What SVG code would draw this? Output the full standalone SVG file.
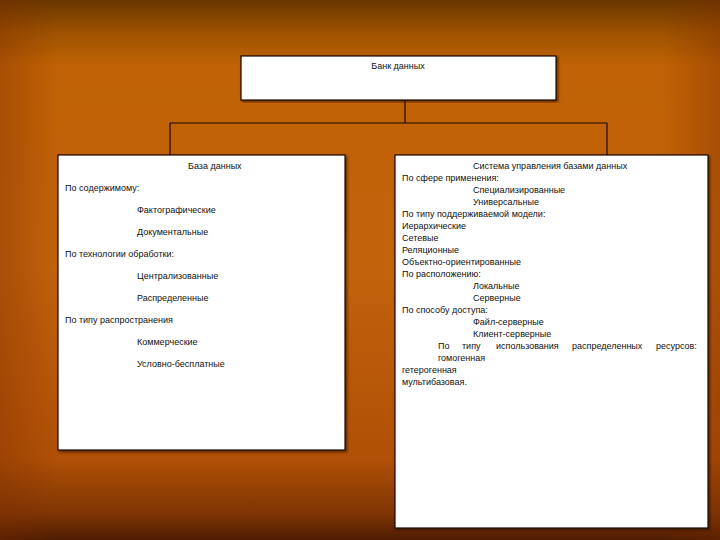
<svg xmlns="http://www.w3.org/2000/svg" width="720" height="540" viewBox="0 0 720 540">
<defs>
<linearGradient id="bg" x1="0" y1="0" x2="0" y2="1">
<stop offset="0" stop-color="#683700"/>
<stop offset="0.06" stop-color="#9e5200"/>
<stop offset="0.12" stop-color="#c06205"/>
<stop offset="0.5" stop-color="#c2620c"/>
<stop offset="0.85" stop-color="#b05006"/>
<stop offset="0.95" stop-color="#803604"/>
<stop offset="1" stop-color="#4e1c02"/>
</linearGradient>
<linearGradient id="side" x1="0" y1="0" x2="1" y2="0">
<stop offset="0" stop-color="#7a2a00" stop-opacity="0.35"/>
<stop offset="0.08" stop-color="#7a2a00" stop-opacity="0"/>
<stop offset="0.92" stop-color="#7a2a00" stop-opacity="0"/>
<stop offset="1" stop-color="#7a2a00" stop-opacity="0.35"/>
</linearGradient>
<filter id="sh" x="-5%" y="-5%" width="110%" height="110%">
<feDropShadow dx="1.5" dy="1.5" stdDeviation="1" flood-color="#2a0c00" flood-opacity="0.7"/>
</filter>
</defs>
<style>
.box{fill:#fff;stroke:#1a0800;stroke-width:1.2;filter:url(#sh)}
.t{font-family:"Liberation Sans",Arial,sans-serif;font-size:9px;fill:#111}
.c{fill:none;stroke:#1a0800;stroke-width:1.2}
</style>
<rect width="720" height="540" fill="url(#bg)"/>
<rect width="720" height="540" fill="url(#side)"/>
<g id="connectors">
<path class="c" d="M405 100 V123 M170 123 H607 M170 123 V155 M607 123 V155"/>
</g>
<g id="bank">
<rect class="box" x="241" y="56" width="315" height="44"/>
<text class="t" x="398" y="69" text-anchor="middle">Банк данных</text>
</g>
<g id="database">
<rect class="box" x="58" y="155" width="287" height="295"/>
<text class="t" x="188" y="169">База данных</text>
<text class="t" x="65" y="191">По содержимому:</text>
<text class="t" x="137" y="213">Фактографические</text>
<text class="t" x="137" y="235">Документальные</text>
<text class="t" x="65" y="257">По технологии обработки:</text>
<text class="t" x="137" y="279">Централизованные</text>
<text class="t" x="137" y="301">Распределенные</text>
<text class="t" x="65" y="323">По типу распространения</text>
<text class="t" x="137" y="345">Коммерческие</text>
<text class="t" x="137" y="367">Условно-бесплатные</text>
</g>
<g id="dbms">
<rect class="box" x="395" y="155" width="313" height="373"/>
<text class="t" x="473" y="169">Система управления базами данных</text>
<text class="t" x="402" y="181">По сфере применения:</text>
<text class="t" x="473" y="193">Специализированные</text>
<text class="t" x="473" y="205">Универсальные</text>
<text class="t" x="402" y="217">По типу поддерживаемой модели:</text>
<text class="t" x="402" y="229">Иерархические</text>
<text class="t" x="402" y="241">Сетевые</text>
<text class="t" x="402" y="253">Реляционные</text>
<text class="t" x="402" y="265">Объектно-ориентированные</text>
<text class="t" x="402" y="277">По расположению:</text>
<text class="t" x="473" y="289">Локальные</text>
<text class="t" x="473" y="301">Серверные</text>
<text class="t" x="402" y="313">По способу доступа:</text>
<text class="t" x="473" y="325">Файл-серверные</text>
<text class="t" x="473" y="337">Клиент-серверные</text>
<text class="t" y="349"><tspan x="438">По</tspan> <tspan x="462">типу</tspan> <tspan x="496">использования</tspan> <tspan x="572">распределенных</tspan> <tspan x="656">ресурсов:</tspan></text>
<text class="t" x="438" y="361">гомогенная</text>
<text class="t" x="402" y="373">гетерогенная</text>
<text class="t" x="402" y="385">мультибазовая.</text>
</g>
</svg>
